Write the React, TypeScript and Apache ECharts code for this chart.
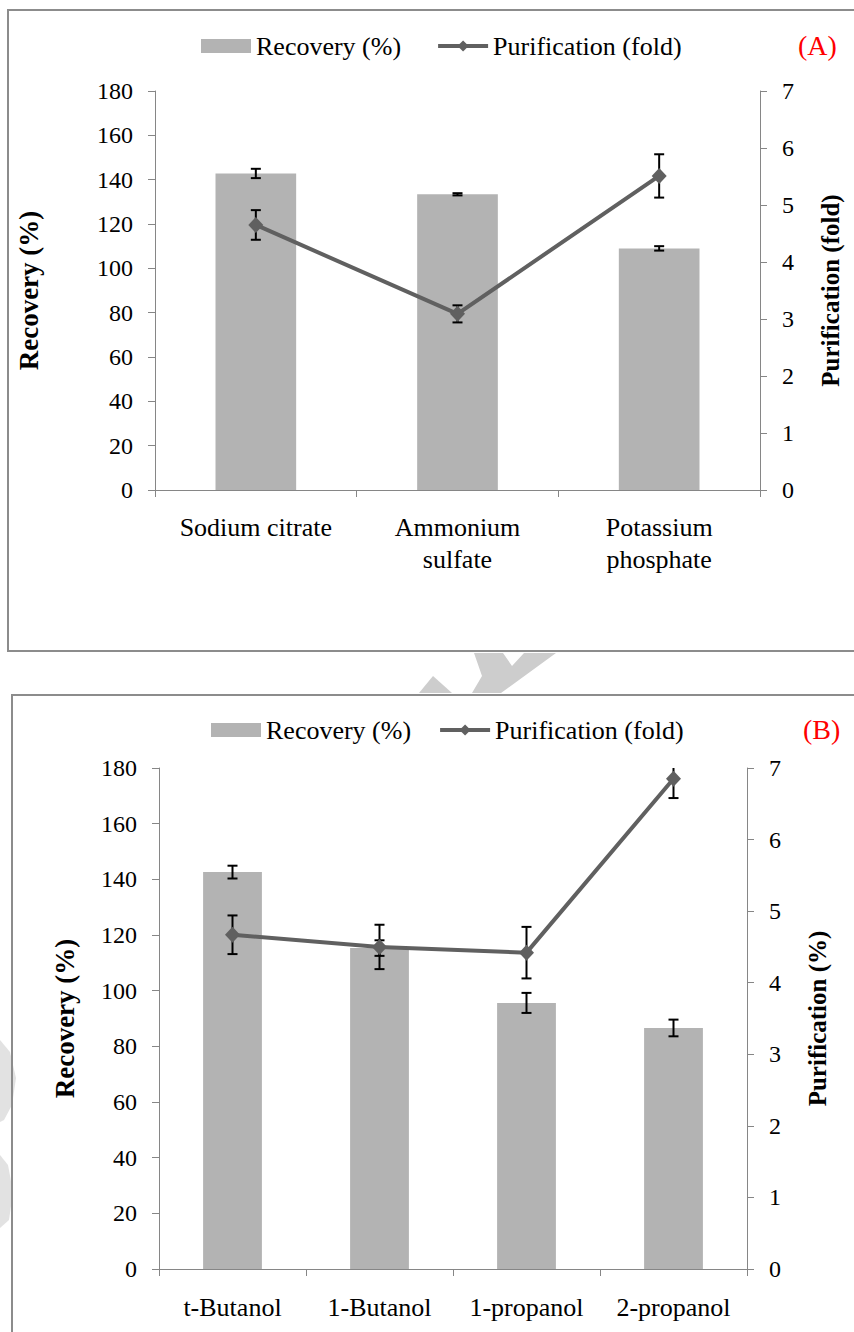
import React, { useEffect, useRef } from "react";
import * as echarts from "echarts";

// ---- Panel A data ----
const catsA = ["Sodium citrate", "Ammonium\nsulfate", "Potassium\nphosphate"];
const recoveryA = [142.8, 133.4, 109.0];
const recoveryErrA = [2.1, 0.5, 1.0];
const purifA = [4.65, 3.09, 5.51];
const purifErrA = [0.26, 0.15, 0.38];

// ---- Panel B data ----
const catsB = ["t-Butanol", "1-Butanol", "1-propanol", "2-propanol"];
const recoveryB = [142.6, 115.3, 95.6, 86.6];
const recoveryErrB = [2.3, 2.8, 3.6, 3.0];
const purifB = [4.67, 4.5, 4.42, 6.85];
const purifErrB = [0.27, 0.31, 0.36, 0.27];

// ---- axis ticks ----
const leftMax = 180;
const leftInterval = 20;
const rightMax = 7;
const rightInterval = 1;

const FONT = "Liberation Serif";
const AXIS_GRAY = "#868686";
const BAR_GRAY = "#b3b3b3";
const LINE_GRAY = "#606060";

function errorRender(maxVal: number) {
  return (params: any, api: any) => {
    const x = api.value(0);
    const y = api.value(1);
    const e = api.value(2);
    const hiRaw = y + e;
    const hi = Math.min(hiRaw, maxVal);
    const lo = y - e;
    const pHi = api.coord([x, hi]);
    const pLo = api.coord([x, lo]);
    const w = 5;
    const style = { stroke: "#000", lineWidth: 2 };
    const children: any[] = [
      { type: "line", shape: { x1: pHi[0], y1: pHi[1], x2: pLo[0], y2: pLo[1] }, style },
      { type: "line", shape: { x1: pLo[0] - w, y1: pLo[1], x2: pLo[0] + w, y2: pLo[1] }, style },
    ];
    if (hiRaw <= maxVal) {
      children.push({ type: "line", shape: { x1: pHi[0] - w, y1: pHi[1], x2: pHi[0] + w, y2: pHi[1] }, style });
    }
    return { type: "group", children };
  };
}

function catAxis(gridIndex: number, data: string[], margin: number) {
  return {
    type: "category",
    gridIndex,
    data,
    boundaryGap: true,
    axisLine: { show: true, lineStyle: { color: AXIS_GRAY, width: 1 } },
    axisTick: { show: true, length: 7, lineStyle: { color: AXIS_GRAY } },
    axisLabel: { interval: 0, color: "#000", fontFamily: FONT, fontSize: 26, lineHeight: 32, margin },
    splitLine: { show: false },
  };
}

function valAxis(gridIndex: number, position: "left" | "right", max: number, interval: number, name: string, nameGap: number, nameSize: number) {
  return {
    type: "value",
    gridIndex,
    position,
    min: 0,
    max,
    interval,
    name,
    nameLocation: "middle",
    nameGap,
    nameRotate: 90,
    nameTextStyle: { color: "#000", fontFamily: FONT, fontSize: nameSize, fontWeight: "bold" },
    axisLine: { show: true, lineStyle: { color: AXIS_GRAY, width: 1 } },
    axisTick: { show: true, length: 7, lineStyle: { color: AXIS_GRAY } },
    axisLabel: { color: "#000", fontFamily: FONT, fontSize: 24, margin: 22 },
    splitLine: { show: false },
  };
}

export default function App() {
  const ref = useRef<HTMLDivElement>(null);
  useEffect(() => {
    if (!ref.current) return;
    const chart = echarts.init(ref.current, undefined, { renderer: "svg" });
    const legendCommon = {
      orient: "horizontal",
      itemWidth: 50,
      itemHeight: 14,
      textStyle: { color: "#000", fontFamily: FONT, fontSize: 26 },
      data: [
        { name: "Recovery (%)", icon: "rect", itemStyle: { color: BAR_GRAY } },
        { name: "Purification (fold)", lineStyle: { width: 4, color: LINE_GRAY }, itemStyle: { color: LINE_GRAY } },
      ],
    };
    const option: any = {
      animation: false,
      backgroundColor: "#fff",
      textStyle: { fontFamily: FONT },
      legend: [
        { ...legendCommon, left: 196, top: 28, itemGap: 35 },
        { ...legendCommon, left: 206, top: 712, itemGap: 27 },
      ],
      grid: [
        { left: 155, right: 854 - 760, top: 91, height: 399, containLabel: false },
        { left: 159, right: 854 - 747, top: 768, height: 501, containLabel: false },
      ],
      xAxis: [catAxis(0, catsA, 21), catAxis(1, catsB, 22)],
      yAxis: [
        valAxis(0, "left", leftMax, leftInterval, "Recovery (%)", 113, 27),
        valAxis(0, "right", rightMax, rightInterval, "Purification (fold)", 58, 25),
        valAxis(1, "left", leftMax, leftInterval, "Recovery (%)", 81, 27),
        valAxis(1, "right", rightMax, rightInterval, "Purification (%)", 58, 25),
      ],
      series: [
        {
          name: "Recovery (%)",
          type: "bar",
          xAxisIndex: 0,
          yAxisIndex: 0,
          data: recoveryA,
          barWidth: "40%",
          itemStyle: { color: BAR_GRAY },
          z: 2,
        },
        {
          name: "errRecA",
          type: "custom",
          xAxisIndex: 0,
          yAxisIndex: 0,
          renderItem: errorRender(leftMax),
          data: recoveryA.map((v, i) => [i, v, recoveryErrA[i]]),
          encode: { x: 0, y: 1 },
          z: 3,
        },
        {
          name: "errPurA",
          type: "custom",
          xAxisIndex: 0,
          yAxisIndex: 1,
          renderItem: errorRender(rightMax),
          data: purifA.map((v, i) => [i, v, purifErrA[i]]),
          encode: { x: 0, y: 1 },
          z: 3,
        },
        {
          name: "Purification (fold)",
          type: "line",
          xAxisIndex: 0,
          yAxisIndex: 1,
          data: purifA,
          symbol: "diamond",
          symbolSize: [15, 16],
          itemStyle: { color: LINE_GRAY },
          lineStyle: { color: LINE_GRAY, width: 4 },
          z: 4,
        },
        {
          name: "Recovery (%)",
          type: "bar",
          xAxisIndex: 1,
          yAxisIndex: 2,
          data: recoveryB,
          barWidth: "40%",
          itemStyle: { color: BAR_GRAY },
          z: 2,
        },
        {
          name: "errRecB",
          type: "custom",
          xAxisIndex: 1,
          yAxisIndex: 2,
          renderItem: errorRender(leftMax),
          data: recoveryB.map((v, i) => [i, v, recoveryErrB[i]]),
          encode: { x: 0, y: 1 },
          z: 3,
        },
        {
          name: "errPurB",
          type: "custom",
          xAxisIndex: 1,
          yAxisIndex: 3,
          renderItem: errorRender(rightMax),
          data: purifB.map((v, i) => [i, v, purifErrB[i]]),
          encode: { x: 0, y: 1 },
          z: 3,
        },
        {
          name: "Purification (fold)",
          type: "line",
          xAxisIndex: 1,
          yAxisIndex: 3,
          data: purifB,
          symbol: "diamond",
          symbolSize: [15, 16],
          itemStyle: { color: LINE_GRAY },
          lineStyle: { color: LINE_GRAY, width: 4 },
          z: 4,
        },
      ],
      graphic: [
        // panel frames
        { type: "rect", z: -5, shape: { x: 8, y: 10, width: 900, height: 641 }, style: { fill: "none", stroke: "#8c8c8c", lineWidth: 2 } },
        { type: "rect", z: -5, shape: { x: 12, y: 695, width: 900, height: 700 }, style: { fill: "none", stroke: "#8c8c8c", lineWidth: 2 } },
        // watermark fragments
        { type: "polygon", z: -6, shape: { points: [[474, 653], [503, 653], [512, 666], [524, 653], [556, 653], [501, 693], [472, 693], [482, 676]] }, style: { fill: "#cdcdcd" } },
        { type: "polygon", z: -6, shape: { points: [[433, 676], [452, 693], [419, 693]] }, style: { fill: "#cdcdcd" } },
        { type: "polygon", z: -6, shape: { points: [[0, 1040], [10, 1052], [16, 1078], [12, 1105], [4, 1120], [0, 1122]] }, style: { fill: "#e2e2e2" } },
        { type: "polygon", z: -6, shape: { points: [[0, 1155], [8, 1165], [13, 1192], [9, 1220], [0, 1228]] }, style: { fill: "#e2e2e2" } },
        // panel labels
        { type: "text", x: 798, y: 45, style: { text: "(A)", fill: "#ff0000", fontFamily: FONT, fontSize: 28, verticalAlign: "middle" } },
        { type: "text", x: 803, y: 729, style: { text: "(B)", fill: "#ff0000", fontFamily: FONT, fontSize: 28, verticalAlign: "middle" } },
      ],
    };
    chart.setOption(option);
    return () => chart.dispose();
  }, []);
  return <div ref={ref} style={{ position: "absolute", left: 0, top: 0, width: 854, height: 1332 }} />;
}
